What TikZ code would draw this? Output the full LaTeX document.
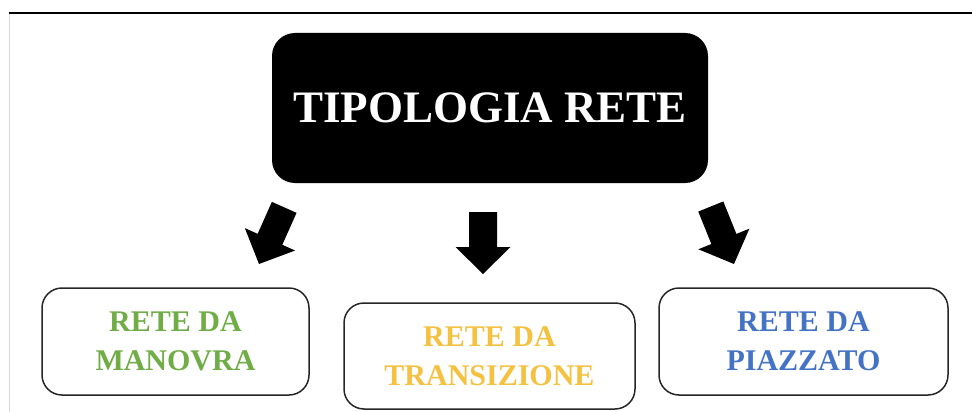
\documentclass[tikz,border=0pt]{standalone}
\usepackage{fontspec}
\setmainfont{Liberation Serif}
\definecolor{verde}{RGB}{112,173,71}
\definecolor{giallo}{RGB}{245,193,64}
\definecolor{blu}{RGB}{68,114,196}
\begin{document}
\begin{tikzpicture}[x=1pt,y=-1pt,
	rete/.style={draw=black!85,line width=1.5pt,rounded corners=20pt,fill=white,inner sep=0pt,align=center,minimum height=107pt,font=\bfseries\fontsize{30}{39}\selectfont}]
	\useasboundingbox (0,0) rectangle (972,412);
	\draw[black!15,line width=1pt] (9,13) -- (9,412);
	\draw[line width=1.2pt] (9,13) -- (972,13);
	\node[fill=black,rounded corners=23pt,minimum width=436pt,minimum height=150pt,inner sep=0pt,text=white,font=\bfseries\fontsize{45}{54}\selectfont] (tipologia) at (490,108) {TIPOLOGIA RETE};
	\node[rete,minimum width=267pt,text=verde] (manovra) at (175.5,341.5) {RETE DA\\MANOVRA};
	\node[rete,minimum width=291pt,minimum height=106pt,text=giallo] (transizione) at (489.5,356) {RETE DA\\TRANSIZIONE};
	\node[rete,minimum width=289pt,text=blu] (piazzato) at (803.5,341.5) {RETE DA\\PIAZZATO};
	\fill[shift={(259,264)},rotate=-24] (-13.5,-62) -- (13.5,-62) -- (13.5,-27) -- (27.5,-27) -- (0,0) -- (-27.5,-27) -- (-13.5,-27) -- cycle;
	\fill[shift={(483,274)}] (-14,-62) -- (14,-62) -- (14,-27) -- (27.5,-27) -- (0,0) -- (-27.5,-27) -- (-14,-27) -- cycle;
	\fill[shift={(734,264)},rotate=22] (-13.5,-62) -- (13.5,-62) -- (13.5,-27) -- (27.5,-27) -- (0,0) -- (-27.5,-27) -- (-13.5,-27) -- cycle;
\end{tikzpicture}
\end{document}
